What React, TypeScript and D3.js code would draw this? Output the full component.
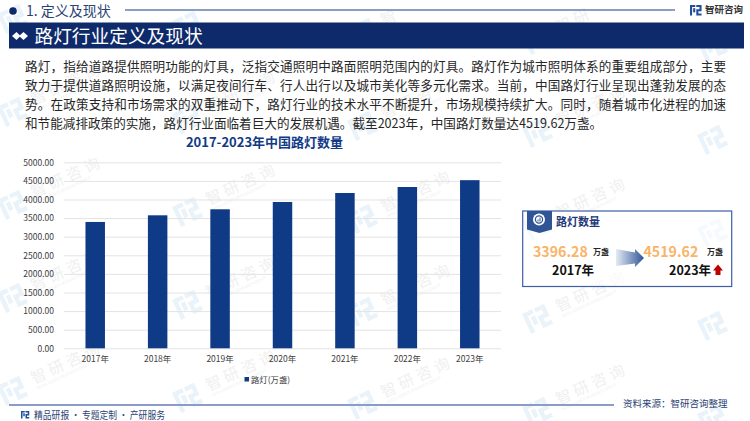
import { useEffect, useRef } from 'react';
import * as d3 from 'd3';

const years = ['2017年', '2018年', '2019年', '2020年', '2021年', '2022年', '2023年'];
const lamps = [3396.28, 3575, 3737, 3933, 4175, 4336, 4519.62];
const yTicks = [0, 500, 1000, 1500, 2000, 2500, 3000, 3500, 4000, 4500, 5000];
const bodyLines = [
  '路灯，指给道路提供照明功能的灯具，泛指交通照明中路面照明范围内的灯具。路灯作为城市照明体系的重要组成部分，主要',
  '致力于提供道路照明设施，以满足夜间行车、行人出行以及城市美化等多元化需求。当前，中国路灯行业呈现出蓬勃发展的态',
  '势。在政策支持和市场需求的双重推动下，路灯行业的技术水平不断提升，市场规模持续扩大。同时，随着城市化进程的加速',
  '和节能减排政策的实施，路灯行业面临着巨大的发展机遇。截至2023年，中国路灯数量达4519.62万盏。',
];
// watermark anchors
const markCols = [-3, 172, 347, 522, 697];
const markRows = [14, 107, 200, 293, 386];
const markChars = ['智', '研', '咨', '询'];

const FONT = '"Noto Sans CJK SC", "Noto Sans", sans-serif';
const NAVY = '#0e2a6b';
const BAR = '#0f3a85';
const RULE = '#8b9dc6';
const SIN = Math.sin((25 * Math.PI) / 180);
const COS = Math.cos((25 * Math.PI) / 180);

const Logo = ({ x, y, s, color }: { x: number; y: number; s: number; color: string }) => (
  <g transform={`translate(${x},${y}) scale(${s})`} fill={color}>
    <path d="M0 0H5V2H2V10H0Z" />
    <path d="M3 3H5V7H3Z" />
    <path d="M6 0H11V6H8V8H11V10H6V4H9V2H6Z" />
  </g>
);

const Watermark = ({ x, y }: { x: number; y: number }) => {
  // drop the glyphs that would fall off the page, the reference just crops them
  const chars = markChars
    .map((ch, i) => ({ ch, cx: 42 + i * 19.5 }))
    .filter(({ cx }) => {
      const sx = x + cx * COS + 8 * SIN;
      const sy = y - cx * SIN + 8 * COS;
      return sx < 738 && sy > 14;
    });
  return (
    <g transform={`translate(${x},${y}) rotate(-25)`}>
      <Logo x={0} y={0} s={2.2} color="#e9f3f9" />
      {chars.map(({ ch, cx }) => (
        <text key={ch} x={cx} y={14} textAnchor="middle" fontSize={15.5} fill="#f0f0f0">{ch}</text>
      ))}
      {chars.length === 4 && (
        <text x={35} y={20.5} fontSize={3.8} fill="#f0f0f0">INTELLIGENCE RESEARCH GROUP</text>
      )}
    </g>
  );
};

const App = () => {
  const chartRef = useRef<SVGGElement>(null);

  useEffect(() => {
    const x = d3.scaleBand().domain(years).range([64, 501]).paddingInner(0.688).paddingOuter(0.344);
    const y = d3.scaleLinear().domain([0, 5000]).range([348.3, 162.3]);
    const g = d3.select(chartRef.current);
    g.selectAll('*').remove();

    // gridlines and y labels
    const yAxis = g.append('g').attr('transform', 'translate(64,0)')
      .call(d3.axisLeft(y).tickValues(yTicks).tickFormat(d3.format('.2f')).tickSize(-437).tickPadding(10));
    yAxis.select('.domain').remove();
    yAxis.selectAll('.tick line').attr('stroke', '#e3e3e3').attr('stroke-width', 1);
    yAxis.selectAll('.tick text').attr('fill', '#404040').attr('font-size', 8.5).attr('font-family', FONT);

    // bars
    g.selectAll('.bar')
      .data(lamps)
      .enter()
      .append('rect')
      .attr('class', 'bar')
      .attr('x', (_, i) => x(years[i]))
      .attr('y', d => y(d))
      .attr('width', x.bandwidth())
      .attr('height', d => y(0) - y(d))
      .attr('fill', BAR);

    const xAxis = g.append('g').attr('transform', 'translate(0,348.3)')
      .call(d3.axisBottom(x).tickSize(0).tickPadding(8));
    xAxis.select('.domain').remove();
    xAxis.selectAll('.tick text').attr('fill', '#404040').attr('font-size', 8.5).attr('font-family', FONT);

    return () => {
      g.selectAll('*').remove();
    };
  }, []);

  return (
    <svg width={750} height={421} style={{ position: 'absolute', left: 0, top: 0 }} fontFamily={FONT}>
      <defs>
        <linearGradient id="arrowFill" x1="0" x2="1" y1="0" y2="0">
          <stop offset="0" stopColor="#e4ebf5" />
          <stop offset="1" stopColor="#2f5597" />
        </linearGradient>
      </defs>
      <rect width={750} height={421} fill="#fff" />

      {/* watermarks, each column sits a little lower than the one before */}
      {markRows.map(my =>
        markCols.map((mx, c) => <Watermark key={`${my}-${c}`} x={mx} y={my + c * 7} />)
      )}

      {/* top strip */}
      <circle cx={13} cy={11} r={3.8} fill={NAVY} />
      <text x={26} y={16} fontSize={14} fill="#2b4373">1. 定义及现状</text>
      <line x1={125} x2={675} y1={10} y2={10} stroke={RULE} strokeWidth={2} />
      <Logo x={690} y={5} s={1.05} color="#1f4f9c" />
      <text x={705} y={13} fontSize={9.5} fontWeight={700} fill="#333">智研咨询</text>

      {/* title band */}
      <rect x={9} y={22.5} width={735} height={26} fill={NAVY} />
      <path d="M12 36L16.5 32L20.5 36L16.5 40Z" fill="#fff" />
      <path d="M19 36L23.5 32L28 36L23.5 40Z" fill="#fff" />
      <text x={34.5} y={42.5} fontSize={18.7} fill="#fff">路灯行业定义及现状</text>

      {/* body */}
      {bodyLines.map((line, i) => (
        <text
          key={i}
          x={25}
          y={70.5 + i * 19}
          fontSize={12.6}
          fill="#262626"
          textLength={i < 3 ? 701 : undefined}
          lengthAdjust="spacing"
        >
          {line}
        </text>
      ))}

      {/* chart */}
      <text x={264.5} y={147} textAnchor="middle" fontSize={13} fontWeight={700} fill="#123a86">2017-2023年中国路灯数量</text>
      <g ref={chartRef} />
      <rect x={244.5} y={377} width={4.5} height={4.5} fill={BAR} />
      <text x={251} y={382.5} fontSize={8.4} fill="#404040">路灯(万盏)</text>

      {/* callout card */}
      <rect x={522.7} y={211} width={209} height={75.5} fill="#fff" fillOpacity={0.6} stroke="#3d5ea6" strokeWidth={1.2} />
      <path d="M527 211H552V229.5L539.5 233L527 229.5Z" fill="#2f5597" />
      <circle cx={539} cy={219.5} r={6} fill="#fff" />
      <circle cx={539} cy={219.5} r={3.6} fill="none" stroke="#2f5597" strokeWidth={1.2} />
      <path d="M537.5 221.5V219.5H538.5V221.5ZM539.5 221.5V217.5H540.5V221.5Z" fill="#2f5597" />
      <text x={556} y={226} fontSize={11} fontWeight={700} fill="#1f3a78">路灯数量</text>

      <text x={533} y={256.5} fontSize={14.2} fontWeight={700} fill="#f9b469">3396.28</text>
      <text x={593} y={255} fontSize={8} fontWeight={700} fill="#262626">万盏</text>
      <text x={552} y={274.5} fontSize={12.5} fontWeight={700} fill="#111">2017年</text>
      <path d="M616 249L635 252.5V249L644 258L635 267V263.5L616 266Z" fill="url(#arrowFill)" />
      <text x={643.5} y={256.5} fontSize={14.2} fontWeight={700} fill="#f9b469">4519.62</text>
      <text x={707} y={255} fontSize={8} fontWeight={700} fill="#262626">万盏</text>
      <text x={669} y={274.5} fontSize={12.5} fontWeight={700} fill="#111">2023年</text>
      <path d="M718 264.5L723 270.5H720.5V275H715.5V270.5H713Z" fill="#c00000" />

      {/* footer */}
      <line x1={9} x2={614} y1={405} y2={405} stroke={RULE} strokeWidth={2} />
      <Logo x={21} y={411} s={0.75} color="#1f4f9c" />
      <text x={34} y={418.5} fontSize={10} fill="#2b4373" textLength={131} lengthAdjust="spacingAndGlyphs">精品研报 · 专题定制 · 产研服务</text>
      <text x={623} y={407} fontSize={9.5} fill="#2b4373">资料来源：智研咨询整理</text>
    </svg>
  );
};

export default App;
